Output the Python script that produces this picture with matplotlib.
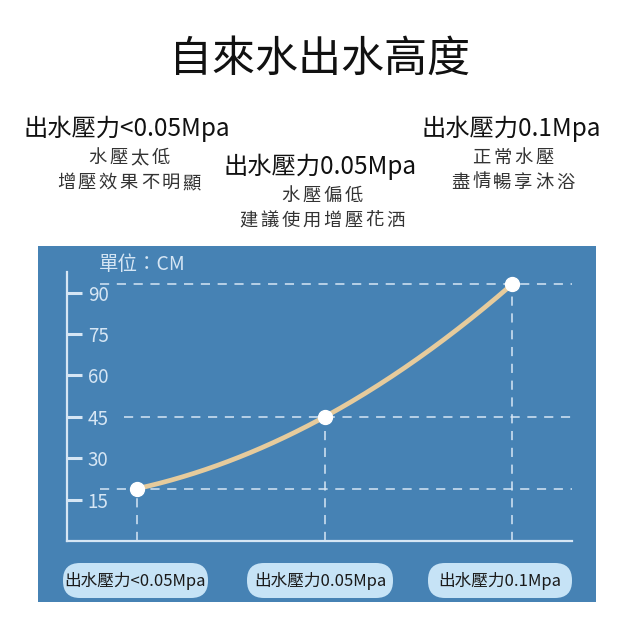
import numpy as np
import matplotlib
matplotlib.use("Agg")
import matplotlib.pyplot as plt
from matplotlib.patches import FancyBboxPatch, Rectangle

plt.rcParams['font.family'] = ['Noto Sans CJK TC', 'DejaVu Sans']

# ---- data ----
title = "自來水出水高度"
categories = ["出水壓力<0.05Mpa", "出水壓力0.05Mpa", "出水壓力0.1Mpa"]
heights_cm = [19, 45, 93]
y_ticks = [15, 30, 45, 60, 75, 90]
unit_label = "單位：CM"
notes = [["水壓太低", "增壓效果不明顯"],
         ["水壓偏低", "建議使用增壓花洒"],
         ["正常水壓", "盡情暢享沐浴"]]

# ---- styling ----
PANEL = "#4682b4"
LIGHT = "#d6e6f4"
PILL = "#c6e3f6"
CURVE = "#e6cb9c"

fig = plt.figure(figsize=(6.4, 6.4), dpi=100)
fig.patch.set_facecolor("white")

# overlay axes in pixel coordinates (y downward)
bg = fig.add_axes([0, 0, 1, 1], zorder=0)
bg.set_xlim(0, 640)
bg.set_ylim(640, 0)
bg.axis("off")

bg.add_patch(Rectangle((38, 246), 558, 356, facecolor=PANEL, edgecolor="none"))

bg.text(320, 60, title, ha="center", va="center", fontsize=31,
        fontweight="light", color="#111111")


def spaced(cx, cy, s, advance, **kw):
    n = len(s)
    start = cx - advance * (n - 1) / 2
    for i, ch in enumerate(s):
        bg.text(start + i * advance, cy, ch, ha="center", va="center", **kw)


head_pos = [(127, 129), (320, 167), (511, 129)]
for (hx, hy), cat, nl in zip(head_pos, categories, notes):
    bg.text(hx, hy, cat, ha="center", va="center", fontsize=17.5, color="#111111")
    for k, line in enumerate(nl):
        spaced(hx + 2, hy + 29 + 25 * k, line, 21, fontsize=13.2, color="#333333")

bg.text(99, 265, unit_label, ha="left", va="center", fontsize=14, color=LIGHT)

# pills
pills = [(63, 208), (247, 393), (428, 572)]
for (x0, x1), cat in zip(pills, categories):
    bg.add_patch(FancyBboxPatch((x0, 563), (x1 - x0), 35,
                                boxstyle="round,pad=0,rounding_size=17",
                                facecolor=PILL, edgecolor="none"))
    bg.text((x0 + x1) / 2, 581, cat, ha="center", va="center", fontsize=12,
            color="#1a1a1a")

# chart axes
L, R, T, B = 67, 572, 272, 541
ax = fig.add_axes([L / 640, (640 - B) / 640, (R - L) / 640, (B - T) / 640], zorder=2)
ax.patch.set_alpha(0)
px_per_unit = 41.4 / 15
ax.set_ylim(0, (B - T) / px_per_unit)
xs = np.arange(len(heights_cm))
XR = 2.32
ax.set_xlim(-0.376, XR)

for s in ["top", "right"]:
    ax.spines[s].set_visible(False)
for s in ["left", "bottom"]:
    ax.spines[s].set_color(LIGHT)
    ax.spines[s].set_linewidth(1.6)

ax.set_xticks([])
ax.set_yticks(y_ticks)
ax.set_yticklabels([str(v) for v in y_ticks])
ax.tick_params(axis="y", direction="in", length=11, width=2.2, color=LIGHT,
               labelcolor=LIGHT, labelsize=13.5, pad=-15)
for lab in ax.get_yticklabels():
    lab.set_ha("left")

# dashed guides
dash_kw = dict(color=LIGHT, lw=1.1, dashes=(6, 5), zorder=1)
guide_start = [-0.2, -0.07, -0.2]
for x, h, x0 in zip(xs, heights_cm, guide_start):
    ax.plot([x0, XR], [h, h], **dash_kw)
    ax.plot([x, x], [0, h], **dash_kw)

# curve through the points
coef = np.polyfit(xs, heights_cm, 2)
xx = np.linspace(xs[0], xs[-1], 200)
ax.plot(xx, np.polyval(coef, xx), color=CURVE, lw=3.4, solid_capstyle="round", zorder=3)
ax.plot(xs, heights_cm, "o", color="white", markersize=10, zorder=4)

fig.savefig("out.png", dpi=100)
